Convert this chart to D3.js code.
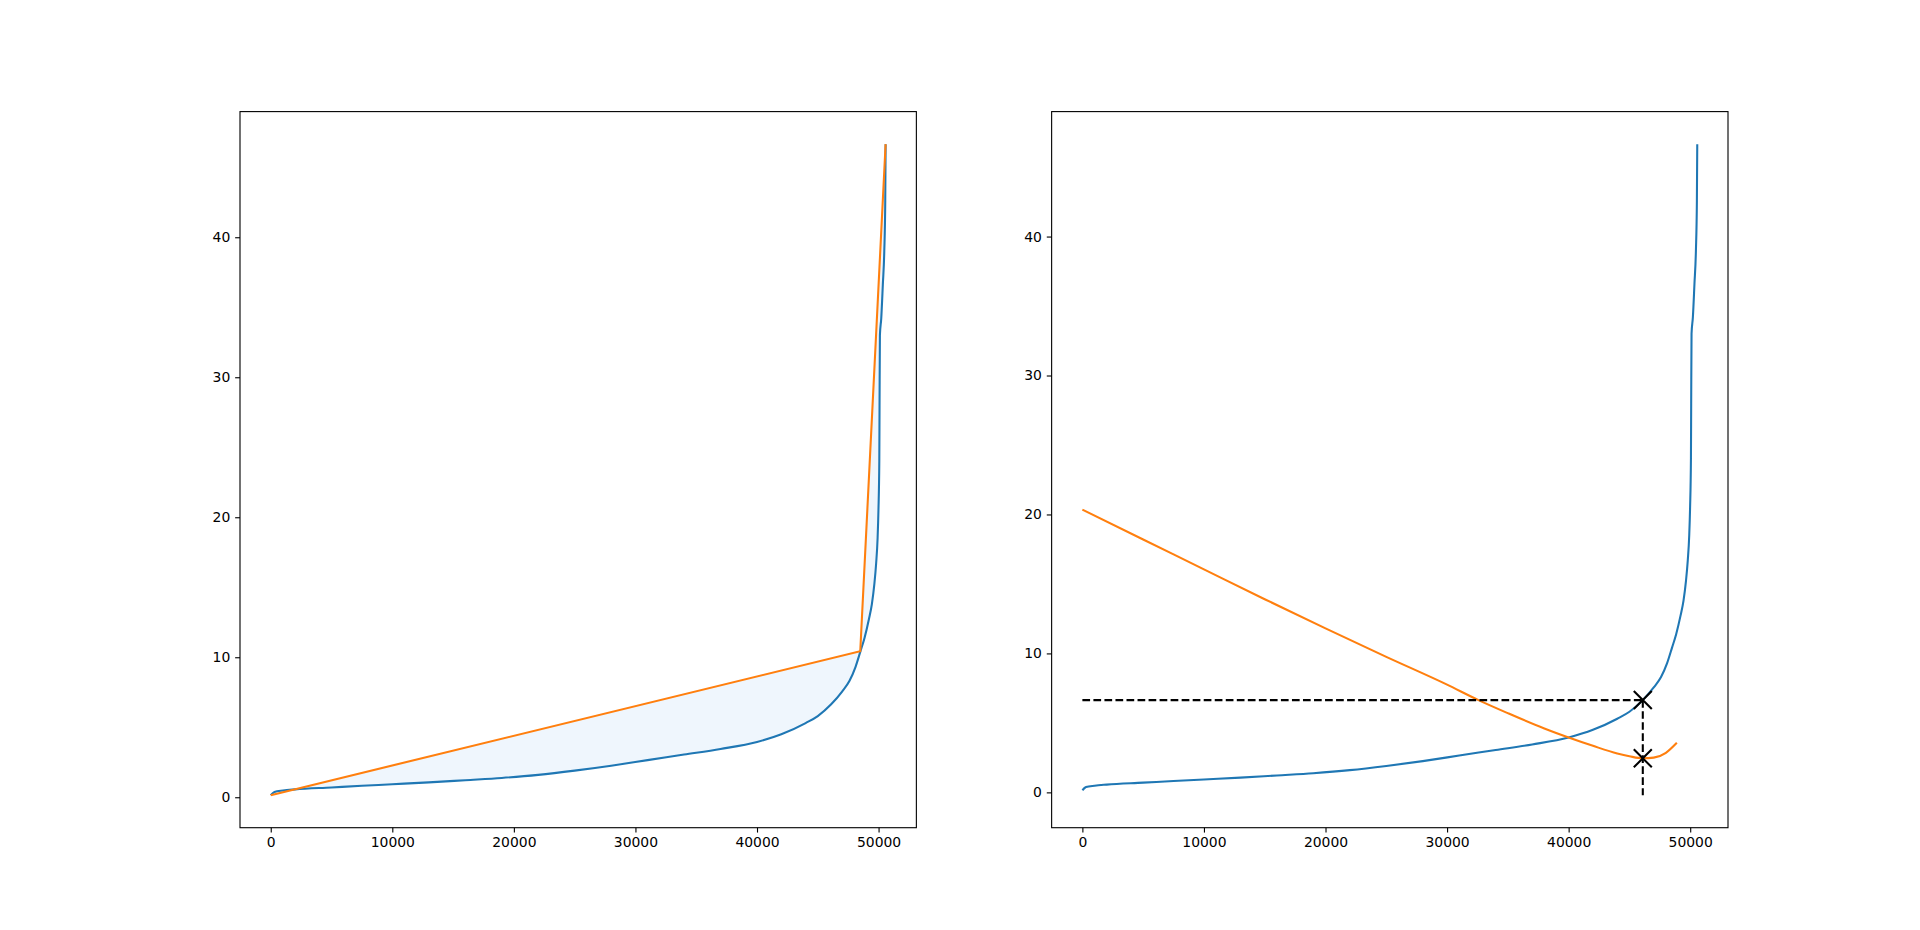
<!DOCTYPE html>
<html>
<head>
<meta charset="utf-8">
<script src="https://cdn.jsdelivr.net/npm/d3@7"></script>
<style>
body { margin: 0; background: #fff; }
svg text { font-family: "DejaVu Sans", sans-serif; font-size: 13.9px; fill: #000; }
</style>
</head>
<body>
<script>
// Sorted values (blue), same curve in both panels
const curveX = [0, 300, 1000, 2000, 5000, 7500, 10000, 13000, 16000, 19000, 22000, 25000,
  28000, 31000, 34000, 37000, 40000, 42000, 44000, 45000, 46100, 47000, 47600, 48100,
  48500, 48850, 49200, 49450, 49650, 49800, 49920, 49990, 50060, 50080, 50110, 50220,
  50350, 50470, 50550, 50580];
const curveY = [0.15, 0.38, 0.48, 0.56, 0.7, 0.82, 0.93, 1.06, 1.22, 1.38, 1.6, 1.9,
  2.25, 2.65, 3.05, 3.45, 3.95, 4.5, 5.3, 5.8, 6.64, 7.55, 8.3, 9.3,
  10.4, 11.4, 12.7, 13.8, 15.2, 16.7, 18.5, 20.5, 24, 28, 33, 34.2,
  36.6, 39.0, 42.6, 46.65];

// Left panel: two-segment fit (orange)
const fitX = [0, 48494, 50580];
const fitY = [0.15, 10.43, 46.65];

// Right panel: fit error per split point (orange)
const errX = [0, 5000, 10000, 15000, 20000, 25000, 30000, 32580, 35000, 38000, 40000,
  42000, 44000, 45000, 46100, 47000, 48000, 48900];
const errY = [20.35, 18.2, 16.05, 13.9, 11.8, 9.75, 7.75, 6.64, 5.7, 4.6, 3.95,
  3.35, 2.8, 2.6, 2.45, 2.5, 2.85, 3.57];

// Chosen split point
const kneeX = 46100;
const kneeCurveY = 6.64;
const kneeErrY = 2.45;
const guideBottom = -0.2;

const xTicks = [0, 10000, 20000, 30000, 40000, 50000];
const yTicks = [0, 10, 20, 30, 40];

const W = 1920, H = 930;
const C0 = '#1f77b4', C1 = '#ff7f0e';
const lw = 2.08;
const axTop = 111.6, axBottom = 827.7;
const axW = 1488 / 2.2;
const panels = [240, 240 + axW * 1.2];

const svg = d3.select('body').append('svg')
  .attr('width', W).attr('height', H);

/**
 * Axes frame with matplotlib style 5% margins
 */
function makeAxes(left, xs, ys) {
  const [x0, x1] = d3.extent(xs);
  const [y0, y1] = d3.extent(ys);
  const dx = (x1 - x0) * 0.05, dy = (y1 - y0) * 0.05;
  const x = d3.scaleLinear().domain([x0 - dx, x1 + dx]).range([left, left + axW]);
  const y = d3.scaleLinear().domain([y0 - dy, y1 + dy]).range([axBottom, axTop]);
  const g = svg.append('g');
  return { x, y, g, left };
}

function finishAxes(ax) {
  const tick = 4.86, pad = 4.86;
  const gx = svg.append('g')
    .attr('transform', `translate(0,${axBottom})`)
    .call(d3.axisBottom(ax.x).tickValues(xTicks).tickSize(tick).tickPadding(pad)
      .tickFormat(d3.format('d')));
  const gy = svg.append('g')
    .attr('transform', `translate(${ax.left},0)`)
    .call(d3.axisLeft(ax.y).tickValues(yTicks).tickSize(tick).tickPadding(pad)
      .tickFormat(d3.format('d')));
  [gx, gy].forEach(a => {
    a.attr('font-size', null).attr('font-family', null);
    a.select('.domain').remove();
    a.selectAll('line').attr('stroke', '#000').attr('stroke-width', 1.11);
  });
  svg.append('rect')
    .attr('x', ax.left).attr('y', axTop)
    .attr('width', axW).attr('height', axBottom - axTop)
    .attr('fill', 'none').attr('stroke', '#000').attr('stroke-width', 1.11);
}

const pts = (xs, ys) => xs.map((v, i) => [v, ys[i]]);
const curvePts = pts(curveX, curveY);

// ---- Left panel ----
const axL = makeAxes(panels[0], curveX.concat(fitX), curveY.concat(fitY));
const curveLineL = d3.line().x(d => axL.x(d[0])).y(d => axL.y(d[1])).curve(d3.curveMonotoneX);
const fitLineL = d3.line().x(d => axL.x(d[0])).y(d => axL.y(d[1]));
const fitPts = pts(fitX, fitY);

// area between curve and the two-segment fit
const areaPath = curveLineL(curvePts) + fitLineL(fitPts.slice().reverse()).replace(/^M/, 'L') + 'Z';
axL.g.append('path').attr('d', areaPath).attr('fill', '#eff6fd').attr('stroke', 'none');
axL.g.append('path').attr('d', curveLineL(curvePts))
  .attr('fill', 'none').attr('stroke', C0).attr('stroke-width', lw);
axL.g.append('path').attr('d', fitLineL(fitPts))
  .attr('fill', 'none').attr('stroke', C1).attr('stroke-width', lw);
finishAxes(axL);

// ---- Right panel ----
const axR = makeAxes(panels[1], curveX.concat(errX), curveY.concat(errY, [guideBottom]));
const lineR = d3.line().x(d => axR.x(d[0])).y(d => axR.y(d[1])).curve(d3.curveMonotoneX);
axR.g.append('path').attr('d', lineR(curvePts))
  .attr('fill', 'none').attr('stroke', C0).attr('stroke-width', lw);
axR.g.append('path').attr('d', lineR(pts(errX, errY)))
  .attr('fill', 'none').attr('stroke', C1).attr('stroke-width', lw);

// guides to the split point
const dash = '7.7,3.33';
axR.g.append('line')
  .attr('x1', axR.x(0)).attr('x2', axR.x(kneeX))
  .attr('y1', axR.y(kneeCurveY)).attr('y2', axR.y(kneeCurveY))
  .attr('stroke', '#000').attr('stroke-width', lw).attr('stroke-dasharray', dash);
axR.g.append('line')
  .attr('x1', axR.x(kneeX)).attr('x2', axR.x(kneeX))
  .attr('y1', axR.y(kneeCurveY)).attr('y2', axR.y(guideBottom))
  .attr('stroke', '#000').attr('stroke-width', lw).attr('stroke-dasharray', dash);

// x markers
const m = 9;
[kneeCurveY, kneeErrY].forEach(v => {
  const cx = axR.x(kneeX), cy = axR.y(v);
  axR.g.append('path')
    .attr('d', `M${cx - m},${cy - m}L${cx + m},${cy + m}M${cx - m},${cy + m}L${cx + m},${cy - m}`)
    .attr('stroke', '#000').attr('stroke-width', lw).attr('fill', 'none');
});
finishAxes(axR);
</script>
</body>
</html>
